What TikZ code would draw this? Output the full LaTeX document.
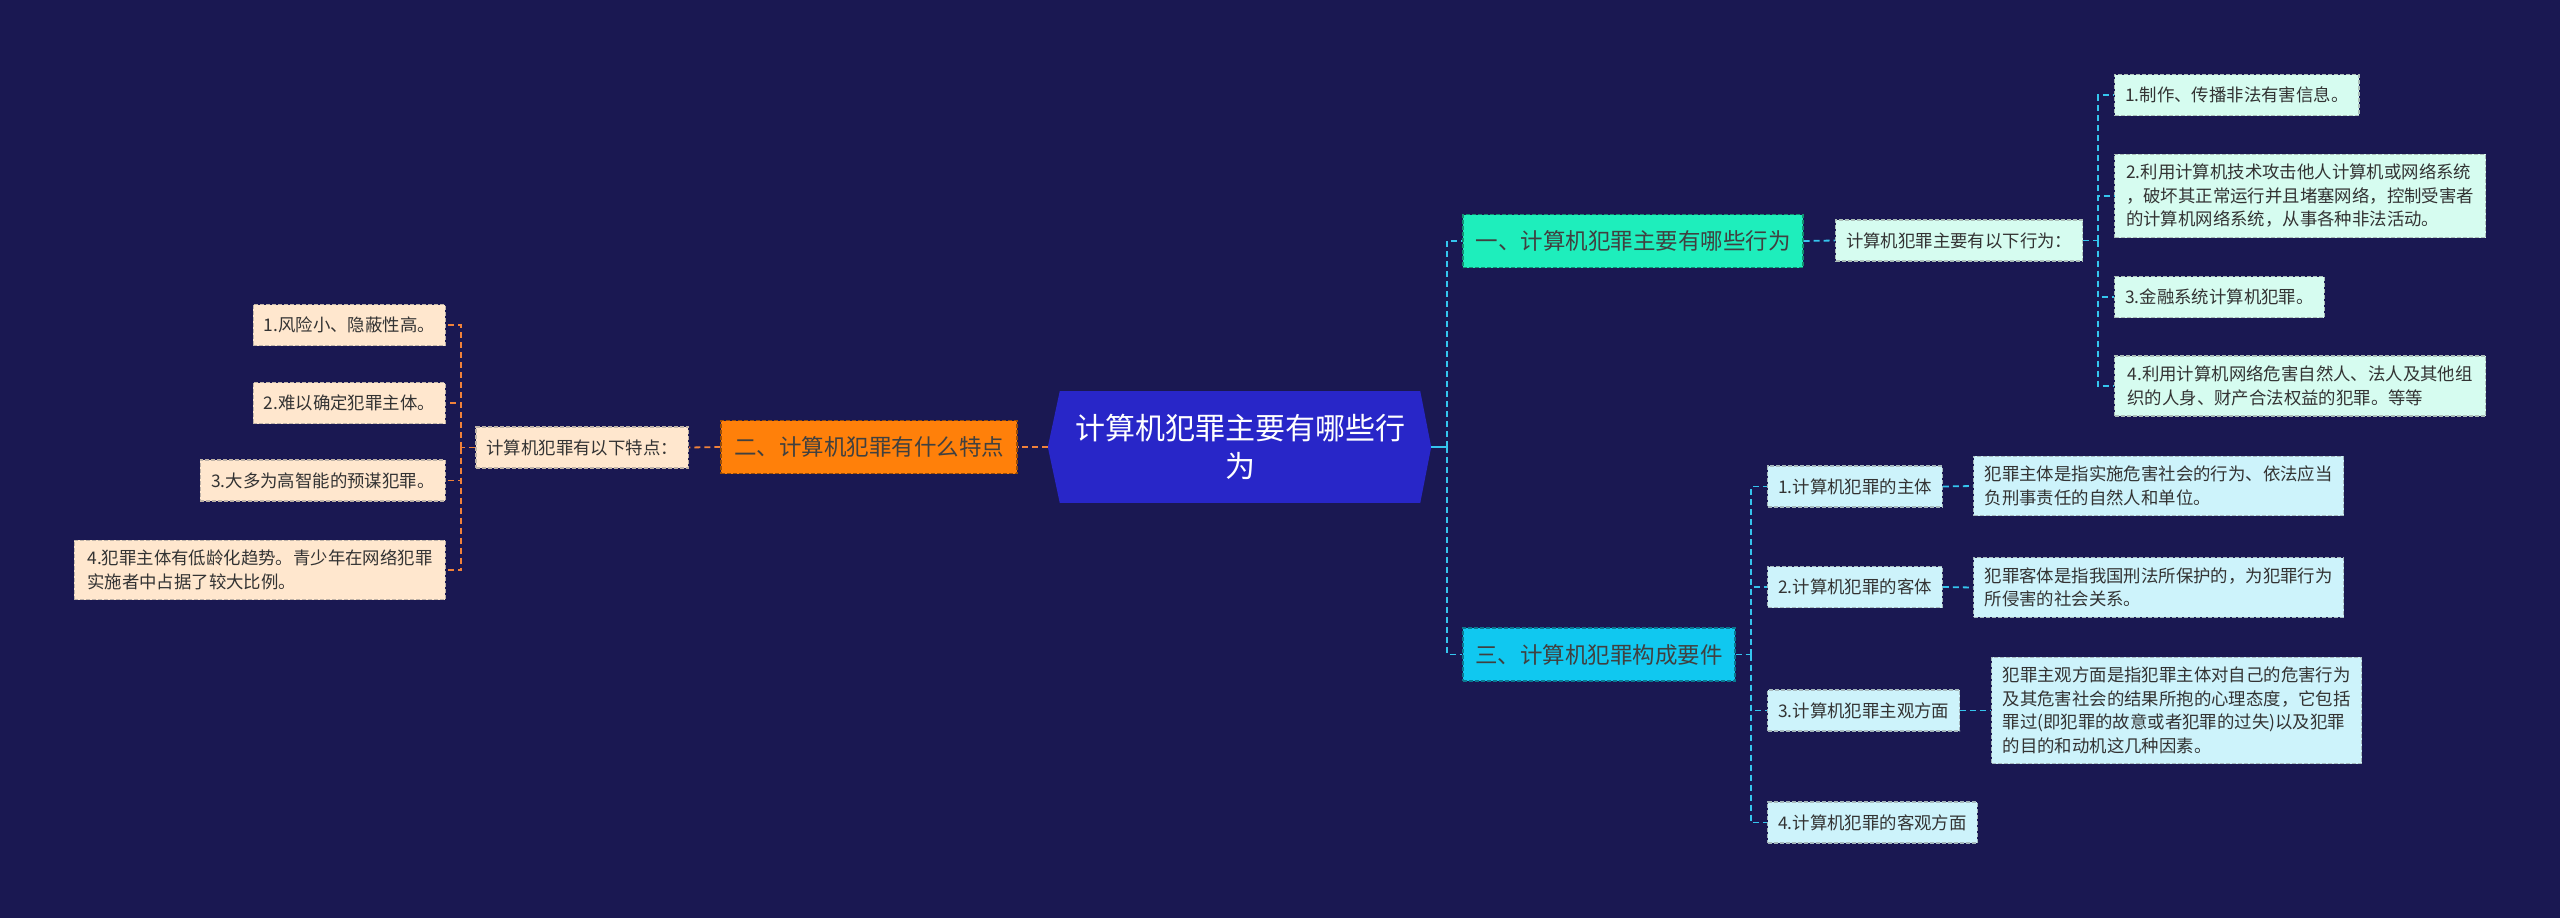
\documentclass[tikz,border=0pt]{standalone}
\usepackage{fontspec}
\setmainfont{Noto Sans CJK SC}
\usepackage{tikz}
\usetikzlibrary{shapes,arrows}

\definecolor{bgnavy}{RGB}{26,24,82}
\definecolor{rootblue}{RGB}{40,38,200}
\definecolor{tealA}{RGB}{30,238,188}
\definecolor{cyanC}{RGB}{16,200,240}
\definecolor{orangeB}{RGB}{255,128,10}
\definecolor{mint}{RGB}{214,252,240}
\definecolor{icecyan}{RGB}{205,243,251}
\definecolor{peach}{RGB}{255,231,206}
\definecolor{cyanline}{RGB}{53,197,238}
\definecolor{orangeline}{RGB}{240,130,58}
\definecolor{inkgray}{RGB}{51,51,51}

\begin{document}
\begin{tikzpicture}[x=1pt,y=1pt,yscale=-1,xscale=1,
    box/.style={rectangle, line width=1.2pt, dash pattern={on 4pt off 2pt}, inner xsep=10.5pt, inner ysep=10pt,
        minimum height=41pt, align=left, text=inkgray, font=\fontsize{17.4}{23.5}\selectfont},
    mintbox/.style={box, fill=mint, draw=mint!50!gray},
    icebox/.style={box, fill=icecyan, draw=icecyan!50!gray},
    peachbox/.style={box, fill=peach, draw=peach!50!gray},
    branch/.style={rectangle, line width=1.2pt, dash pattern={on 4pt off 2pt}, inner xsep=12pt,
        minimum height=53pt, font=\fontsize{22.5}{28}\selectfont},
    rootbox/.style={rectangle, fill=rootblue, text=white, inner sep=0pt, minimum width=360pt,
        minimum height=112pt, align=center, font=\fontsize{30}{38}\selectfont},
    cline/.style={draw=cyanline, line width=1.8pt, dash pattern={on 6pt off 4pt}},
    oline/.style={draw=orangeline, line width=1.8pt, dash pattern={on 6pt off 4pt}}]

    %Background
    \fill[bgnavy] (0,0) rectangle (2560,918);
    \useasboundingbox (0,0) rectangle (2560,918);

    %Shape: Root
    \node[rootbox] (root) at (1240,447) {计算机犯罪主要有哪些行\\为};
    \fill[rootblue] (root.north east) -- ([xshift=11pt]root.east) -- (root.south east) -- cycle;
    \fill[rootblue] (root.north west) -- ([xshift=-12pt]root.west) -- (root.south west) -- cycle;
    \coordinate (rootR) at ([xshift=11pt]root.east);
    \coordinate (rootL) at ([xshift=-12pt]root.west);

    %Shape: Branches
    \node[branch, fill=tealA, draw=tealA!60!black, text=black!75, minimum width=340pt] (brA) at (1633,241) {一、计算机犯罪主要有哪些行为};
    \node[branch, fill=cyanC, draw=cyanC!60!black, text=black!75, minimum width=272pt] (brC) at (1599,654.5) {三、计算机犯罪构成要件};
    \node[branch, fill=orangeB, draw=orangeB!60!black, text=black!75, minimum width=296pt] (brB) at (869,447) {二、计算机犯罪有什么特点};

    % Text Node
    \node[mintbox, anchor=west, minimum width=242pt] (subA) at (1835,240.5) {计算机犯罪主要有以下行为：};
    \node[peachbox, anchor=east, minimum width=212pt] (subB) at (689,447.5) {计算机犯罪有以下特点：};

    % Text Node
    \node[mintbox, anchor=west, minimum width=244pt] (a1) at (2114,95) {1.制作、传播非法有害信息。};
    \node[mintbox, anchor=west, minimum width=371pt] (a2) at (2114,196) {2.利用计算机技术攻击他人计算机或网络系统\\，破坏其正常运行并且堵塞网络，控制受害者\\的计算机网络系统，从事各种非法活动。};
    \node[mintbox, anchor=west, minimum width=209pt] (a3) at (2114,297) {3.金融系统计算机犯罪。};
    \node[mintbox, anchor=west, minimum width=371pt] (a4) at (2114,386) {4.利用计算机网络危害自然人、法人及其他组\\织的人身、财产合法权益的犯罪。等等};

    % Text Node
    \node[icebox, anchor=west, minimum width=174pt] (c1) at (1767,486.5) {1.计算机犯罪的主体};
    \node[icebox, anchor=west, minimum width=174pt] (c2) at (1767,587) {2.计算机犯罪的客体};
    \node[icebox, anchor=west, minimum width=191pt] (c3) at (1767,710.5) {3.计算机犯罪主观方面};
    \node[icebox, anchor=west, minimum width=209pt] (c4) at (1767,822.5) {4.计算机犯罪的客观方面};

    % Text Node
    \node[icebox, anchor=west, minimum width=370pt] (d1) at (1973,486) {犯罪主体是指实施危害社会的行为、依法应当\\负刑事责任的自然人和单位。};
    \node[icebox, anchor=west, minimum width=370pt] (d2) at (1973,587.5) {犯罪客体是指我国刑法所保护的，为犯罪行为\\所侵害的社会关系。};
    \node[icebox, anchor=west, minimum width=370pt] (d3) at (1991,710.5) {犯罪主观方面是指犯罪主体对自己的危害行为\\及其危害社会的结果所抱的心理态度，它包括\\罪过(即犯罪的故意或者犯罪的过失)以及犯罪\\的目的和动机这几种因素。};

    % Text Node
    \node[peachbox, anchor=east, minimum width=192pt] (b1) at (446,325) {1.风险小、隐蔽性高。};
    \node[peachbox, anchor=east, minimum width=192pt] (b2) at (446,403) {2.难以确定犯罪主体。};
    \node[peachbox, anchor=east, minimum width=245pt] (b3) at (446,480.5) {3.大多为高智能的预谋犯罪。};
    \node[peachbox, anchor=east, minimum width=371pt] (b4) at (446,570) {4.犯罪主体有低龄化趋势。青少年在网络犯罪\\实施者中占据了较大比例。};

    %Straight Lines: right side
    \coordinate (jR) at (1447,447);
    \draw[cline, solid] (rootR) -- (jR);
    \draw[cline] (jR) |- (brA.west);
    \draw[cline] (jR) |- (brC.west);
    \draw[cline] (brA.east) -- (subA.west);
    \coordinate (jA) at (2098,240.5);
    \draw[cline] (subA.east) -- (jA);
    \foreach \n in {a1,a2,a3,a4}
        \draw[cline] (jA) |- (\n.west);
    \coordinate (jC) at (1751,654.5);
    \draw[cline] (brC.east) -- (jC);
    \foreach \n in {c1,c2,c3,c4}
        \draw[cline] (jC) |- (\n.west);
    \draw[cline] (c1.east) -- (d1.west);
    \draw[cline] (c2.east) -- (d2.west);
    \draw[cline] (c3.east) -- (d3.west);

    %Straight Lines: left side
    \draw[oline] (rootL) -- (brB.east);
    \draw[oline] (brB.west) -- (subB.east);
    \coordinate (jB) at (461,447.5);
    \draw[oline] (subB.west) -- (jB);
    \foreach \n in {b1,b2,b3,b4}
        \draw[oline] (jB) |- (\n.east);

\end{tikzpicture}
\end{document}
